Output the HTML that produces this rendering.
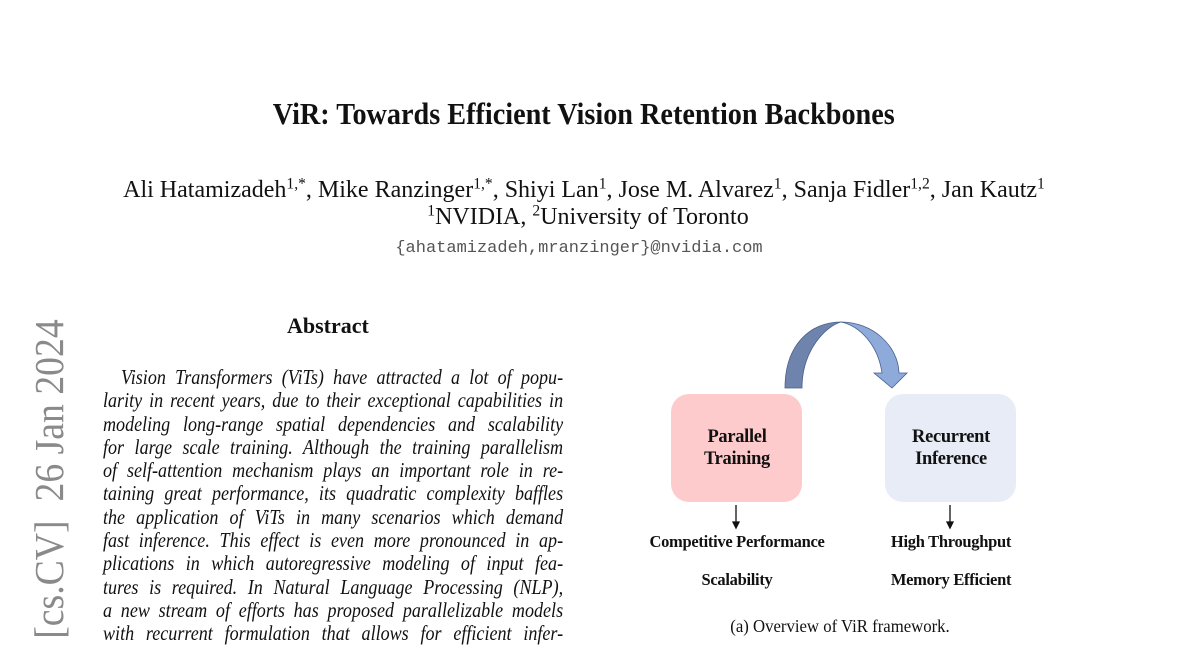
<!DOCTYPE html>
<html><head><meta charset="utf-8"><style>
body{margin:0;width:1200px;height:648px;background:#fff;position:relative;overflow:hidden;font-family:"Liberation Serif",serif;color:#111}
.a{position:absolute;white-space:nowrap}
.c{position:absolute;left:-16px;width:1200px;text-align:center;white-space:nowrap}
.c span.s{display:inline-block}
.ab{position:absolute;left:103px;width:535px;transform:scaleX(0.86);transform-origin:0 0;font-style:italic;font-size:21px;text-align:justify;text-align-last:justify;white-space:nowrap;line-height:23.3px}
.ab div{height:23.3px}
sup{font-size:0.65em;vertical-align:0.55em;line-height:0}
.lbl{position:absolute;font-weight:bold;font-size:17px;white-space:nowrap;transform:translateX(-50%) scaleX(0.97);letter-spacing:-0.3px}
</style></head><body>
<div class="c" style="top:96px;font-size:31px;font-weight:bold"><span class="s" style="transform:scaleX(0.91)">ViR: Towards Efficient Vision Retention Backbones</span></div>
<div class="c" style="top:177px;font-size:24px"><span class="s">Ali Hatamizadeh<sup>1,*</sup>, Mike Ranzinger<sup>1,*</sup>, Shiyi Lan<sup>1</sup>, Jose M. Alvarez<sup>1</sup>, Sanja Fidler<sup>1,2</sup>, Jan Kautz<sup>1</sup></span></div>
<div class="c" style="top:204px;font-size:24px;left:-12px"><span class="s"><sup>1</sup>NVIDIA, <sup>2</sup>University of Toronto</span></div>
<div class="c" style="top:239px;font-size:17px;font-family:'Liberation Mono',monospace;color:#555;left:-21px"><span class="s">{ahatamizadeh,mranzinger}@nvidia.com</span></div>

<div class="a" style="left:49px;top:479px;font-size:41px;color:#8a8a8a;transform:translate(-50%,-50%) rotate(-90deg) scaleX(0.92)">[cs.CV]&nbsp;&nbsp;26 Jan 2024</div>

<div class="a" style="left:287px;top:313px;font-size:22px;font-weight:bold">Abstract</div>

<div class="ab" style="top:366px">
<div style="padding-left:21px">Vision Transformers (ViTs) have attracted a lot of popu-</div>
<div>larity in recent years, due to their exceptional capabilities in</div>
<div>modeling long-range spatial dependencies and scalability</div>
<div>for large scale training. Although the training parallelism</div>
<div>of self-attention mechanism plays an important role in re-</div>
<div>taining great performance, its quadratic complexity baffles</div>
<div>the application of ViTs in many scenarios which demand</div>
<div>fast inference. This effect is even more pronounced in ap-</div>
<div>plications in which autoregressive modeling of input fea-</div>
<div>tures is required. In Natural Language Processing (NLP),</div>
<div>a new stream of efforts has proposed parallelizable models</div>
<div>with recurrent formulation that allows for efficient infer-</div>
</div>

<svg class="a" style="left:0;top:0" width="1200" height="648">
<rect x="671" y="394" width="131" height="108" rx="18" fill="#fdcbcb"/>
<rect x="885" y="394" width="131" height="108" rx="18" fill="#e8ecf7"/>
<path d="M785,388 C785,345 810,322 841,322 C826,326 802,350 802,388 Z" fill="#6f84ad" stroke="#4a5f8a" stroke-width="0.8"/>
<path d="M841,322 C872,322 898,345 899,373 L907,373 L892,388 L874,373 L882,373 C878,345 860,326 841,322 Z" fill="#8eaadb" stroke="#4a5f8a" stroke-width="0.8"/>
<g stroke="#111" stroke-width="1.3" fill="#111">
<line x1="736" y1="505" x2="736" y2="523"/><path d="M733,522 L739,522 L736,528 Z"/>
<line x1="950" y1="505" x2="950" y2="523"/><path d="M947,522 L953,522 L950,528 Z"/>
</g>
</svg>
<div class="lbl" style="left:737px;top:426px;text-align:center;line-height:22px;font-size:19px">Parallel<br>Training</div>
<div class="lbl" style="left:951px;top:426px;text-align:center;line-height:22px;font-size:19px">Recurrent<br>Inference</div>
<div class="lbl" style="left:737px;top:532px">Competitive Performance</div>
<div class="lbl" style="left:737px;top:570px">Scalability</div>
<div class="lbl" style="left:951px;top:532px">High Throughput</div>
<div class="lbl" style="left:951px;top:570px">Memory Efficient</div>
<div class="a" style="left:840px;top:616px;font-size:18px;transform:translateX(-50%) scaleX(0.93)">(a) Overview of ViR framework.</div>
</body></html>
